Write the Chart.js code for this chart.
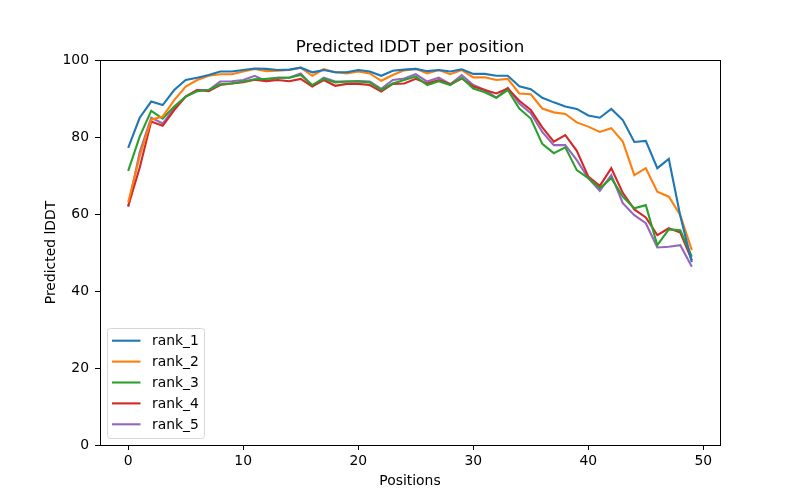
<!DOCTYPE html>
<html>
<head>
<meta charset="utf-8">
<script src="https://cdn.jsdelivr.net/npm/chart.js@4/dist/chart.umd.min.js"></script>
<style>
  html, body { margin: 0; padding: 0; background: #fff; }
  #wrap { width: 800px; height: 500px; }
</style>
</head>
<body>
<div id="wrap"><canvas id="lddtChart" width="800" height="500"></canvas></div>
<script>
// ===============================
// data
// ===============================
const positions = Array.from({ length: 50 }, (_, i) => i);
const seriesNames = ["rank_1", "rank_2", "rank_3", "rank_4", "rank_5"];

const rank1 = [77.2, 85, 89.2, 88.3, 92.2, 94.8, 95.4, 96.1, 97, 97, 97.4, 97.8, 97.7, 97.4, 97.5, 98, 96.8, 97.4, 96.8, 96.8,
  97.4, 97, 95.9, 97.2, 97.5, 97.7, 97.1, 97.4, 97, 97.6, 96.4, 96.4, 95.9, 95.9, 93.2, 92.4, 90.2, 89, 87.9, 87.3,
  85.6, 85, 87.3, 84.4, 78.7, 79, 71.9, 74.3, 59.5, 47.5];
const rank2 = [63, 75, 84.5, 85.3, 89.6, 93.1, 94.8, 95.9, 96.3, 96.3, 97, 97.7, 97.1, 97.2, 97.4, 98, 95.9, 97.6, 96.8, 96.5,
  97, 96.5, 94.6, 96.1, 97.3, 97.7, 96.5, 97.4, 96.3, 97.4, 95.5, 95.5, 94.8, 95.1, 91.3, 91.1, 87.4, 86.4, 86, 83.8,
  82.7, 81.3, 82.3, 78.8, 70.1, 71.9, 65.8, 64.5, 59.7, 50.6];
const rank3 = [71.2, 80.1, 86.8, 84.8, 87.9, 90.5, 91.9, 92.2, 93.7, 93.9, 94.4, 95, 95.1, 95.4, 95.4, 96.1, 93.5, 95.1, 94.2, 94.4,
  94.4, 94.2, 92.2, 93.9, 94.8, 95.7, 93.5, 94.5, 93.5, 95.4, 92.6, 91.6, 90.2, 92.2, 87.4, 84.8, 78.2, 75.8, 77.3, 71.4,
  69.3, 66.7, 69.3, 64.5, 61.5, 62.3, 51.9, 56, 55.8, 48.9];
const rank4 = [62, 72, 84, 82.9, 87, 90.5, 92.2, 91.9, 93.5, 93.9, 94.2, 94.9, 94.5, 94.8, 94.5, 95.1, 93.1, 94.8, 93.3, 93.8,
  93.8, 93.5, 91.8, 93.8, 93.9, 95.1, 93.9, 94.8, 93.7, 95.2, 93.1, 92.2, 91.3, 92.6, 89.4, 87, 82.5, 78.8, 80.5, 76.4,
  69.7, 67.3, 71.9, 65.5, 61.2, 59.1, 54.5, 56.3, 55.2, 48];
const rank5 = [61.9, 76, 85, 83.5, 87.4, 90.5, 92.2, 92.2, 94.4, 94.5, 94.8, 95.9, 94.5, 95.4, 95.4, 96.5, 93.3, 95.4, 94.4, 94.4,
  94.5, 94.4, 92.5, 94.8, 95.2, 96.3, 94.4, 95.4, 93.7, 96.1, 93.5, 92.2, 90.2, 92.8, 88.7, 86.2, 81.3, 77.9, 77.9, 74,
  69.3, 66, 70.1, 62.8, 59.7, 57.6, 51.3, 51.5, 51.9, 46.3];

const xTicks = [0, 10, 20, 30, 40, 50];
const yTicks = [0, 20, 40, 60, 80, 100];

// matplotlib tab10
const LINE_COLORS = ["#1f77b4", "#ff7f0e", "#2ca02c", "#d62728", "#9467bd"];
const FONT = "'DejaVu Sans', sans-serif";

/* -----------------------------------------------------
   plugin: frame, title, axis labels, legend
----------------------------------------------------- */
const mplDecor = {
  id: "mplDecor",
  afterDraw(chart) {
    const { ctx, chartArea: a } = chart;
    ctx.save();

    // spines
    ctx.strokeStyle = "#000";
    ctx.lineWidth = 1;
    ctx.strokeRect(a.left + 0.5, a.top + 0.5, a.right - a.left, a.bottom - a.top);

    // title + axis titles
    ctx.fillStyle = "#000";
    ctx.textAlign = "center";
    ctx.textBaseline = "alphabetic";
    ctx.font = "16.7px " + FONT;
    ctx.fillText("Predicted lDDT per position", (a.left + a.right) / 2, 52);

    ctx.font = "13.9px " + FONT;
    ctx.fillText("Positions", (a.left + a.right) / 2, 485);

    ctx.save();
    ctx.translate(55, (a.top + a.bottom) / 2);
    ctx.rotate(-Math.PI / 2);
    ctx.fillText("Predicted lDDT", 0, 0);
    ctx.restore();

    // legend box
    const bx = 107.5, by = 328.5, bw = 97, bh = 110, r = 3;
    ctx.globalAlpha = 0.8;
    ctx.fillStyle = "#fff";
    ctx.beginPath();
    ctx.roundRect(bx, by, bw, bh, r);
    ctx.fill();
    ctx.globalAlpha = 1;
    ctx.strokeStyle = "#d6d6d6";
    ctx.stroke();

    ctx.textAlign = "left";
    ctx.textBaseline = "middle";
    ctx.font = "13.9px " + FONT;
    chart.data.datasets.forEach((ds, i) => {
      const y = 340.7 + i * 20.9;
      ctx.strokeStyle = ds.borderColor;
      ctx.lineWidth = 2.1;
      ctx.beginPath();
      ctx.moveTo(112, y);
      ctx.lineTo(140.5, y);
      ctx.stroke();
      ctx.fillStyle = "#000";
      ctx.fillText(ds.label, 152, y + 1);
    });

    ctx.restore();
  }
};

const seriesValues = [rank1, rank2, rank3, rank4, rank5];

new Chart(document.getElementById("lddtChart"), {
  type: "line",
  data: {
    datasets: seriesNames.map((name, i) => ({
      label: name,
      data: positions.map((p, j) => ({ x: p, y: seriesValues[i][j] })),
      borderColor: LINE_COLORS[i],
      borderWidth: 2.1,
      pointRadius: 0,
      tension: 0,
      fill: false
    }))
  },
  options: {
    responsive: false,
    animation: false,
    devicePixelRatio: 1,
    layout: { padding: { top: 60, right: 80, left: 0, bottom: 0 } },
    plugins: {
      legend: { display: false },
      title: { display: false },
      tooltip: { enabled: false }
    },
    scales: {
      x: {
        type: "linear",
        min: -2.45,
        max: 51.45,
        afterBuildTicks: (s) => { s.ticks = xTicks.map((v) => ({ value: v })); },
        afterFit: (s) => { s.height = 55; },
        grid: { display: true, drawOnChartArea: false, drawTicks: true, tickLength: 5, color: "#000" },
        border: { display: true, color: "#000" },
        ticks: { color: "#000", font: { family: FONT, size: 13.9 }, padding: 3, maxRotation: 0 }
      },
      y: {
        min: 0,
        max: 100,
        afterBuildTicks: (s) => { s.ticks = yTicks.map((v) => ({ value: v })); },
        afterFit: (s) => { s.width = 100; },
        grid: { display: true, drawOnChartArea: false, drawTicks: true, tickLength: 5, color: "#000" },
        border: { display: true, color: "#000" },
        ticks: { color: "#000", font: { family: FONT, size: 13.9 }, padding: 6 }
      }
    }
  },
  plugins: [mplDecor]
});
</script>
</body>
</html>
